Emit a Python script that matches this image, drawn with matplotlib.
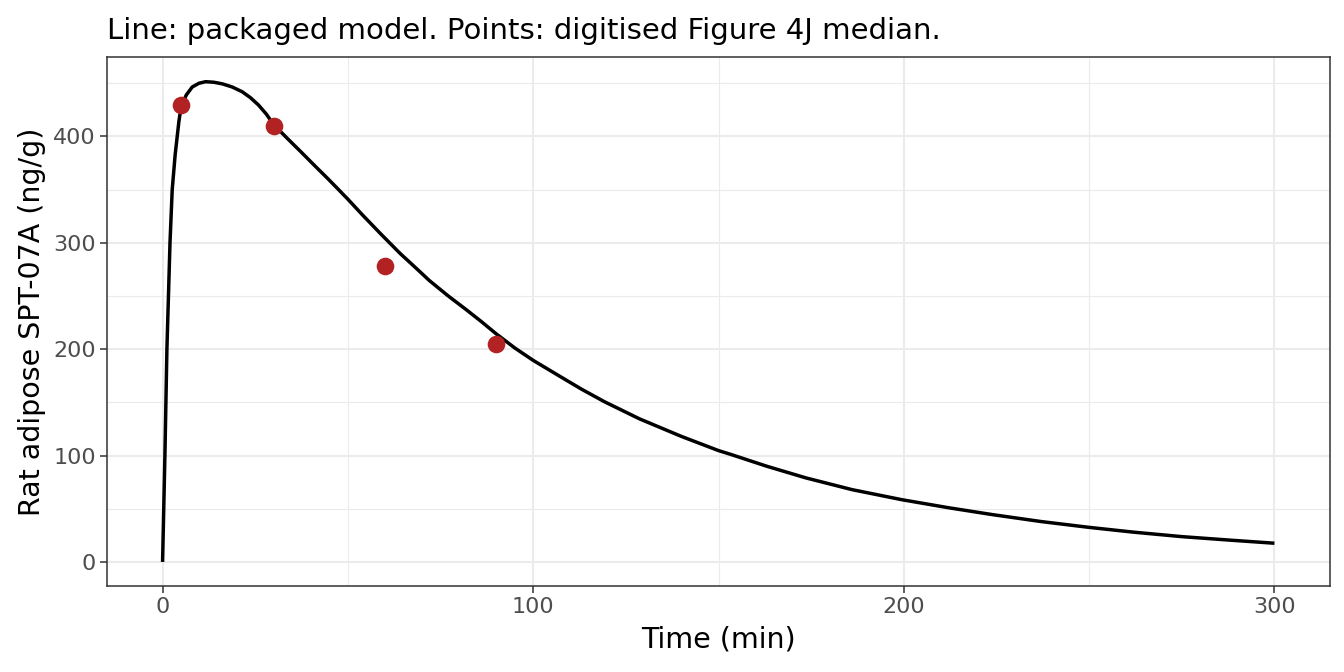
import numpy as np
import matplotlib.pyplot as plt

# model curve (time in min, ng/g)
model_time = [0, 0.63, 1.17, 2.0, 2.6, 3.4, 4.4, 5.0, 6.4, 8.0, 9.8, 11.6, 13.8,
              16.1, 18.8, 21.5, 23.7, 25.9, 28, 30, 34, 37.2, 41.2, 44.4, 47.5,
              50, 54, 58.7, 61.4, 64.1, 68, 72, 77.1, 82, 86, 90, 95.1, 100,
              107.2, 113, 119.3, 128.7, 140, 150, 153.4, 163, 173.6, 186, 199.5,
              212, 223.9, 237, 250, 262, 275, 288, 300]
model_conc = [0, 100, 200, 300, 350, 383, 414, 428, 439, 446.5, 450, 451.5, 451,
              449.5, 446.5, 442, 436.5, 429.5, 421, 411, 397, 386, 372, 361, 350,
              341, 326, 309, 299.5, 290, 277.5, 264.5, 250, 237, 226, 214.5, 201,
              189.5, 174.5, 162.5, 150.5, 134.5, 118, 104.7, 101, 90, 79, 68, 58.5,
              51, 44.5, 38, 32.5, 28, 23.8, 20.5, 17.6]

# digitised Figure 4J median
obs_time = [5, 30, 60, 90]
obs_conc = [430, 410, 278, 205]

fig = plt.figure(figsize=(13.44, 6.72), dpi=100)
ax = fig.add_axes([0.0796, 0.128, 0.9100, 0.787])

ax.plot(model_time, model_conc, color='black', lw=2.5, zorder=3,
        solid_capstyle='butt', solid_joinstyle='round')
ax.plot(obs_time, obs_conc, 'o', color='#B22222', ms=12.7, mew=0, zorder=4)

ax.set_xlim(-15, 315)
ax.set_ylim(-22.6, 474.6)
ax.set_xticks([0, 100, 200, 300])
ax.set_yticks([0, 100, 200, 300, 400])
ax.set_xticks([50, 150, 250], minor=True)
ax.set_yticks([50, 150, 250, 350, 450], minor=True)
ax.grid(which='major', color='#EBEBEB', lw=1.5)
ax.grid(which='minor', color='#EBEBEB', lw=0.8)
ax.set_axisbelow(True)
for s in ax.spines.values():
    s.set_color('#333333')
    s.set_linewidth(1.1)
ax.tick_params(which='major', length=5, width=1.1, color='#333333',
               labelcolor='#4D4D4D', labelsize=16, pad=3)
ax.tick_params(which='minor', length=0)

ax.set_xlabel('Time (min)', fontsize=20.5, color='black', labelpad=6)
ax.set_ylabel('Rat adipose SPT-07A (ng/g)', fontsize=20.5, color='black', labelpad=5)
ax.set_title('Line: packaged model. Points: digitised Figure 4J median.',
             loc='left', fontsize=21, pad=13)

fig.savefig('out.png', dpi=100, facecolor='white')
